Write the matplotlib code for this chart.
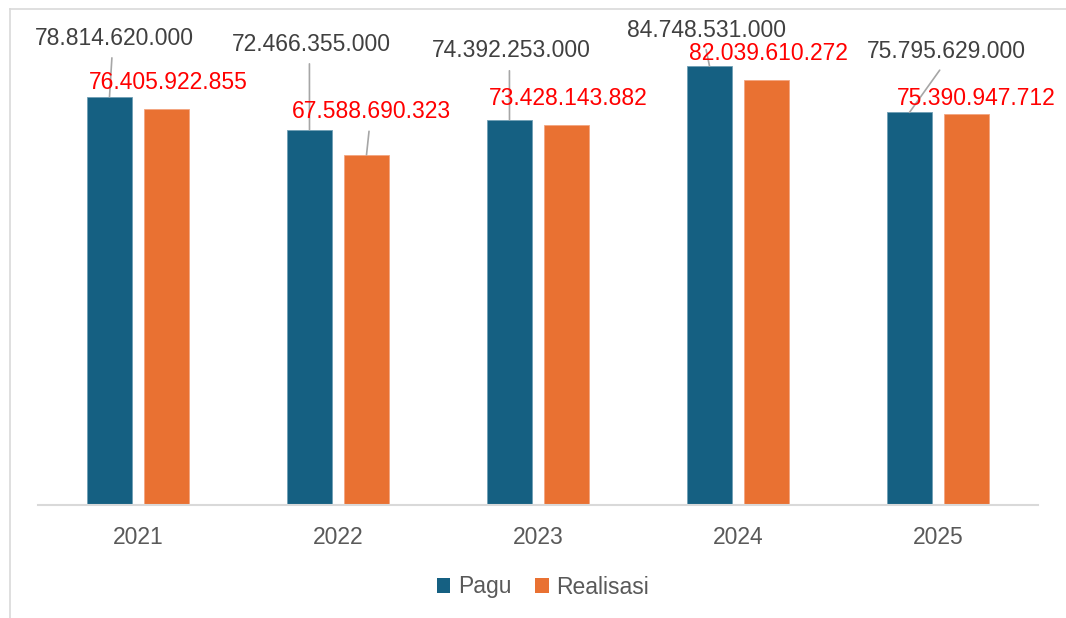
import matplotlib
matplotlib.use("Agg")
import matplotlib.pyplot as plt
from matplotlib.patches import Patch
from matplotlib.lines import Line2D
import numpy as np

# ---- data ----
years = ["2021", "2022", "2023", "2024", "2025"]
pagu = [78814620000, 72466355000, 74392253000, 84748531000, 75795629000]
realisasi = [76405922855, 67588690323, 73428143882, 82039610272, 75390947712]
pagu_labels = ["78.814.620.000", "72.466.355.000", "74.392.253.000", "84.748.531.000", "75.795.629.000"]
real_labels = ["76.405.922.855", "67.588.690.323", "73.428.143.882", "82.039.610.272", "75.390.947.712"]

# ---- layout (label offsets in pixels from bar top, and whether a leader line is drawn) ----
pagu_off = [(4.5, 58.7), (1.5, 85.6), (1.5, 68.7), (-3.5, 36), (37, 61)]
pagu_leader = [True, True, True, True, True]
real_off = [(2, 26.7), (5, 43.4), (1.5, 26), (2, 26.5), (10, 16)]
real_leader = [False, True, False, False, False]

C_PAGU = "#156082"
C_REAL = "#E97132"
FONT = "Liberation Sans"
FS = 16.5

W, H = 1066, 618
fig = plt.figure(figsize=(W / 100, H / 100), dpi=100)
fig.patch.set_facecolor("white")
ax = fig.add_axes([38 / W, 113 / H, 1000 / W, (505 - 38.8) / H])

x = np.arange(len(years))
bw = 0.225
off = 0.1425
ax.bar(x - off, pagu, bw, color=C_PAGU, edgecolor="#6f9fb5", linewidth=0.6, zorder=2)
ax.bar(x + off, realisasi, bw, color=C_REAL, edgecolor="#f3a57f", linewidth=0.6, zorder=2)

ax.set_xlim(-0.5, len(years) - 0.5)
ax.set_ylim(0, 90e9)
for s in ["top", "right", "left"]:
    ax.spines[s].set_visible(False)
ax.spines["bottom"].set_color("#D9D9D9")
ax.spines["bottom"].set_linewidth(1.5)
ax.set_yticks([])
ax.set_xticks(x)
ax.set_xticklabels(years, fontfamily=FONT, fontsize=FS, color="#595959")
ax.tick_params(axis="x", length=0, pad=15)

def label(xc, val, txt, offs, leader, color):
    kw = dict(xy=(xc, val), xytext=offs, textcoords="offset pixels",
              ha="center", va="center", fontsize=FS, fontfamily=FONT,
              color=color, annotation_clip=False, zorder=5)
    if leader:
        kw["arrowprops"] = dict(arrowstyle="-", color="#A6A6A6", lw=1.2,
                                shrinkA=4, shrinkB=0, relpos=(0.49, 0.0))
    ax.annotate(txt, **kw)

for i in range(len(years)):
    label(x[i] - off, pagu[i], pagu_labels[i], pagu_off[i], pagu_leader[i], "#404040")
    label(x[i] + off, realisasi[i], real_labels[i], real_off[i], real_leader[i], "#FF0000")

handles = [Patch(facecolor=C_PAGU, edgecolor="none"), Patch(facecolor=C_REAL, edgecolor="none")]
leg = fig.legend(handles, ["Pagu", "Realisasi"], loc="center",
                 bbox_to_anchor=(543 / W, 1 - 587 / H), ncol=2, frameon=False,
                 prop={"family": FONT, "size": FS}, handlelength=0.6, handleheight=0.6,
                 handletextpad=0.35, columnspacing=1.0, labelcolor="#595959")

# outer chart border (top and left visible)
fig.add_artist(Line2D([9.5 / W, 1.0], [1 - 8.5 / H, 1 - 8.5 / H], transform=fig.transFigure,
                      color="#D9D9D9", lw=1.2))
fig.add_artist(Line2D([9.5 / W, 9.5 / W], [0, 1 - 8.5 / H], transform=fig.transFigure,
                      color="#D9D9D9", lw=1.2))

fig.savefig("out.png", dpi=100)
